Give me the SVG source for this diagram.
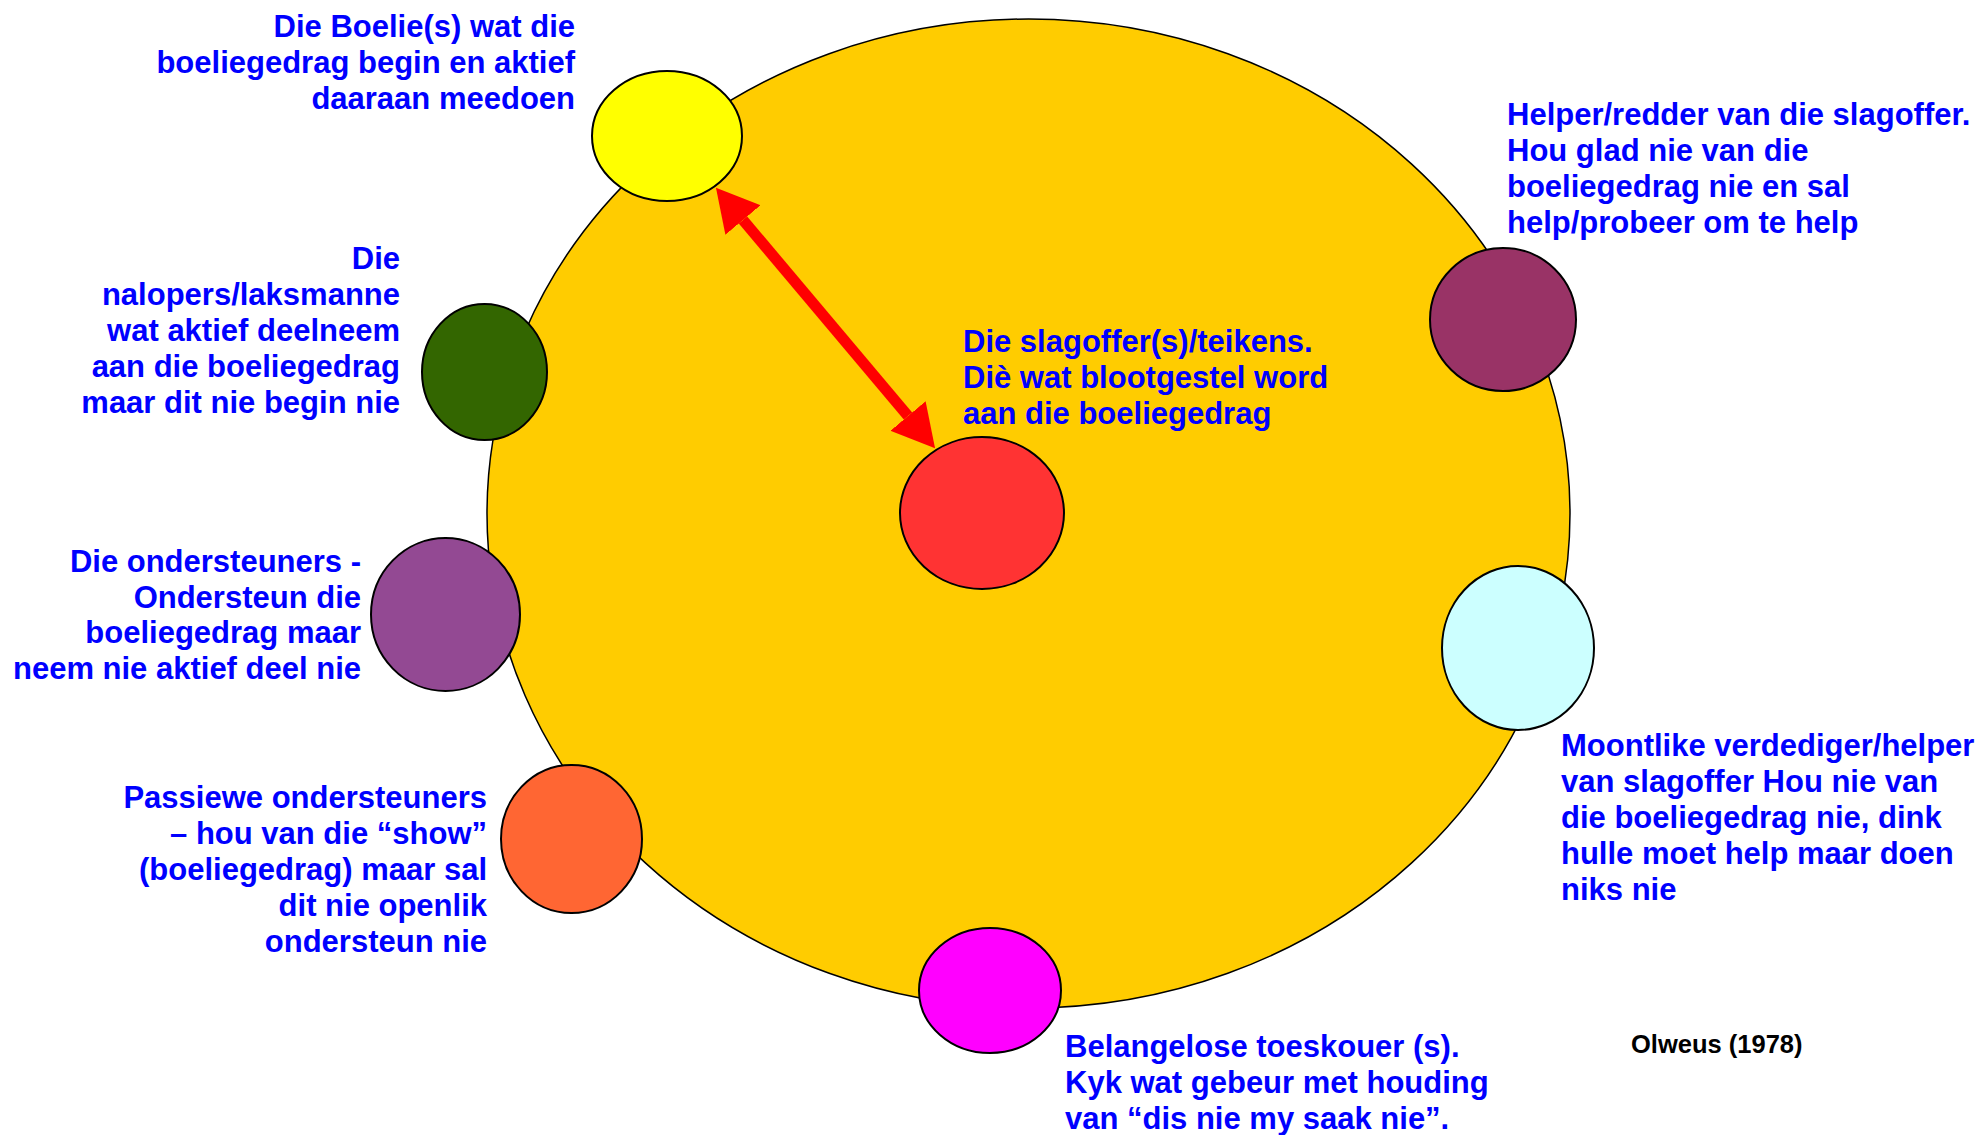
<svg xmlns="http://www.w3.org/2000/svg" width="1982" height="1135" viewBox="0 0 1982 1135">
<style>
.lbl{font-family:"Liberation Sans",Arial,sans-serif;font-weight:bold;font-size:31px;fill:#0000FF}
.r{text-anchor:end}
.nd{stroke:#000;stroke-width:2}
.cite{font-family:"Liberation Sans",Arial,sans-serif;font-weight:bold;font-size:25.5px;fill:#000}
</style>
<defs>
<marker id="ah" markerUnits="userSpaceOnUse" markerWidth="44" markerHeight="48" refX="0" refY="23" orient="auto-start-reverse" viewBox="0 0 44 46">
<path d="M0,0 L42,23 L0,46 z" fill="#FF0000"/>
</marker>
</defs>
<rect width="1982" height="1135" fill="#FFFFFF"/>
<g id="circle">
<ellipse cx="1028.5" cy="513.5" rx="541.5" ry="494.5" fill="#FFCC00" stroke="#000" stroke-width="1.5"/>
</g>
<g id="boelie">
<ellipse class="nd" cx="667" cy="136" rx="75" ry="65" fill="#FFFF00"/>
<text class="lbl r" x="575"><tspan x="575" y="37">Die Boelie(s) wat die</tspan><tspan x="575" y="73">boeliegedrag begin en aktief</tspan><tspan x="575" y="109">daaraan meedoen</tspan></text>
</g>
<g id="nalopers">
<ellipse class="nd" cx="484.5" cy="372" rx="62.5" ry="68" fill="#336600"/>
<text class="lbl r"><tspan x="400" y="269">Die</tspan><tspan x="400" y="305">nalopers/laksmanne</tspan><tspan x="400" y="341">wat aktief deelneem</tspan><tspan x="400" y="377">aan die boeliegedrag</tspan><tspan x="400" y="413">maar dit nie begin nie</tspan></text>
</g>
<g id="ondersteuners">
<ellipse class="nd" cx="445.5" cy="614.5" rx="74.5" ry="76.5" fill="#934993"/>
<text class="lbl r"><tspan x="361" y="572">Die ondersteuners -</tspan><tspan x="361" y="607.5">Ondersteun die</tspan><tspan x="361" y="643">boeliegedrag maar</tspan><tspan x="361" y="678.5">neem nie aktief deel nie</tspan></text>
</g>
<g id="passiewe">
<ellipse class="nd" cx="571.5" cy="839" rx="70.5" ry="74" fill="#FF6633"/>
<text class="lbl r"><tspan x="487" y="808">Passiewe ondersteuners</tspan><tspan x="487" y="844">– hou van die “show”</tspan><tspan x="487" y="880">(boeliegedrag) maar sal</tspan><tspan x="487" y="916">dit nie openlik</tspan><tspan x="487" y="952">ondersteun nie</tspan></text>
</g>
<g id="belangelose">
<ellipse class="nd" cx="990" cy="990.5" rx="71" ry="62.5" fill="#FF00FF"/>
<text class="lbl"><tspan x="1065" y="1057">Belangelose toeskouer (s).</tspan><tspan x="1065" y="1093">Kyk wat gebeur met houding</tspan><tspan x="1065" y="1129">van “dis nie my saak nie”.</tspan></text>
</g>
<g id="verdediger">
<ellipse class="nd" cx="1518" cy="648" rx="76" ry="82" fill="#CCFFFF"/>
<text class="lbl"><tspan x="1561" y="756">Moontlike verdediger/helper</tspan><tspan x="1561" y="792">van slagoffer Hou nie van</tspan><tspan x="1561" y="828">die boeliegedrag nie, dink</tspan><tspan x="1561" y="864">hulle moet help maar doen</tspan><tspan x="1561" y="900">niks nie</tspan></text>
</g>
<g id="helper">
<ellipse class="nd" cx="1503" cy="319.5" rx="73" ry="71.5" fill="#993366"/>
<text class="lbl"><tspan x="1507" y="125">Helper/redder van die slagoffer.</tspan><tspan x="1507" y="161">Hou glad nie van die</tspan><tspan x="1507" y="197">boeliegedrag nie en sal</tspan><tspan x="1507" y="233">help/probeer om te help</tspan></text>
</g>
<g id="slagoffer">
<ellipse class="nd" cx="982" cy="513" rx="82" ry="76" fill="#FF3333"/>
<text class="lbl"><tspan x="963" y="352">Die slagoffer(s)/teikens.</tspan><tspan x="963" y="388">Diè wat blootgestel word</tspan><tspan x="963" y="424">aan die boeliegedrag</tspan></text>
</g>
<g id="connectors">
<line x1="743" y1="220" x2="908" y2="416" stroke="#FF0000" stroke-width="11" marker-start="url(#ah)" marker-end="url(#ah)"/>
</g>
<g id="citation">
<text class="cite" x="1631" y="1053">Olweus (1978)</text>
</g>
</svg>
